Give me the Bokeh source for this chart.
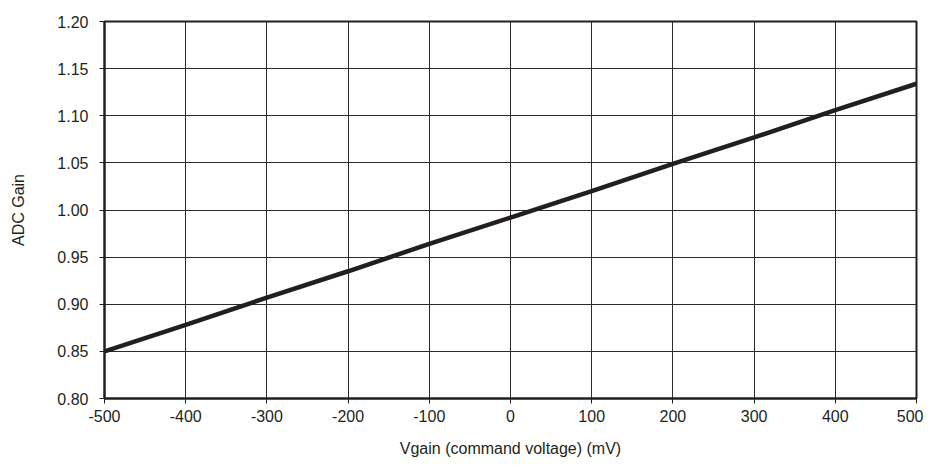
from bokeh.plotting import figure
from bokeh.models import Range1d, FixedTicker, CustomJSTickFormatter
from bokeh.embed import file_html
from bokeh.resources import INLINE

vgain_mv = [-500, -400, -300, -200, -100, 0, 100, 200, 300, 400, 500]
adc_gain = [0.850, 0.878, 0.907, 0.935, 0.964, 0.992, 1.020, 1.049, 1.077, 1.106, 1.134]
x_ticks = [-500, -400, -300, -200, -100, 0, 100, 200, 300, 400, 500]
y_ticks = [0.80, 0.85, 0.90, 0.95, 1.00, 1.05, 1.10, 1.15, 1.20]

FONT = "Liberation Sans"

p = figure(width=923, height=459, output_backend="svg", toolbar_location=None,
           x_range=Range1d(-500, 500), y_range=Range1d(0.80, 1.20),
           min_border_left=104, min_border_right=7, min_border_top=21, min_border_bottom=61)

p.line(vgain_mv, adc_gain, line_color="#231f20", line_width=4.5)

p.outline_line_color = "#231f20"
p.outline_line_width = 2
p.outline_line_alpha = 1

for ax, ticks in ((p.xaxis[0], x_ticks), (p.yaxis[0], y_ticks)):
    ax.ticker = FixedTicker(ticks=ticks)
    ax.minor_tick_line_color = None
    ax.major_tick_in = 0
    ax.major_tick_out = 5
    ax.major_tick_line_color = "#231f20"
    ax.axis_line_color = "#231f20"
    ax.axis_line_width = 2
    ax.major_label_text_font = FONT
    ax.major_label_text_font_size = "16px"
    ax.major_label_text_color = "#231f20"
    ax.axis_label_text_font = FONT
    ax.axis_label_text_font_size = "16px"
    ax.axis_label_text_font_style = "normal"
    ax.axis_label_text_color = "#231f20"

p.yaxis[0].formatter = CustomJSTickFormatter(code="return tick.toFixed(2);")
p.xaxis[0].formatter = CustomJSTickFormatter(code="return tick.toFixed(0);")
p.yaxis[0].major_label_standoff = 11
p.xaxis[0].major_label_standoff = 6
p.xaxis.axis_label = "Vgain (command voltage) (mV)"
p.yaxis.axis_label = "ADC Gain"
p.xaxis.axis_label_standoff = 15
p.yaxis.axis_label_standoff = 27

p.grid.grid_line_color = "#2d2a2b"
p.grid.grid_line_width = 1
p.grid.grid_line_alpha = 1
p.xgrid.ticker = FixedTicker(ticks=x_ticks)
p.ygrid.ticker = FixedTicker(ticks=y_ticks)

open("out.html", "w").write(file_html(p, INLINE))
